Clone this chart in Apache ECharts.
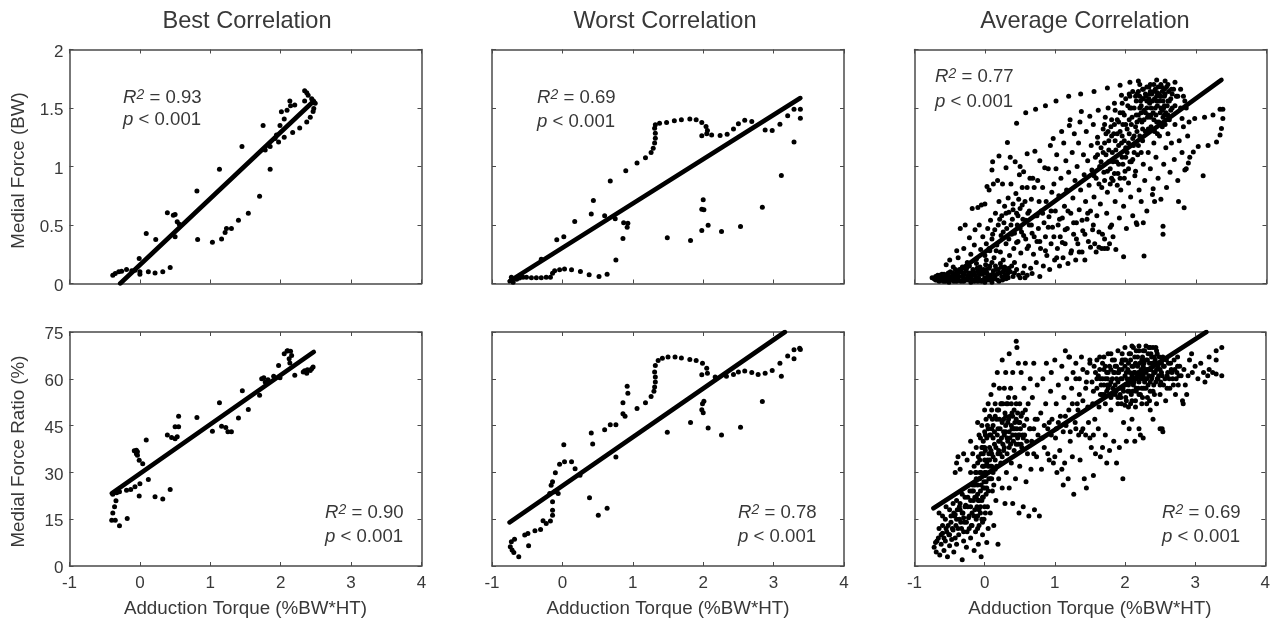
<!DOCTYPE html>
<html><head><meta charset="utf-8">
<script src="https://cdn.jsdelivr.net/npm/echarts@6/dist/echarts.min.js"></script>
<style>html,body{margin:0;padding:0;background:#fff}#c{width:1273px;height:623px}</style>
</head><body><div id="c"></div>
<script>
const titles = ['Best Correlation','Worst Correlation','Average Correlation'];
const xName = 'Adduction Torque (%BW*HT)';
const yNames = ['Medial Force (BW)','Medial Force Ratio (%)'];
const xTicks = [-1,0,1,2,3,4];
const forceTicks = [0,0.5,1,1.5,2];
const ratioTicks = [0,15,30,45,60,75];

const bestForce = [[-.385,.07],[-.35,.085],[-.30,.10],[-.26,.105],[-.19,.12],[-.115,.108],[-.07,.114],[0,.10],[0,.08],[-.01,.214],[.12,.10],[.215,.09],[.325,.10],[.43,.137],[.09,.427],[.225,.376],[.39,.604],[.50,.59],[.475,.584],[.53,.527],[.56,.507],[.50,.40],[.81,.79],[.82,.376],[1.03,.353],[1.16,.38],[1.21,.436],[1.23,.47],[1.30,.47],[1.40,.54],[1.54,.60],[1.70,.746],[1.13,.977],[1.45,1.17],[1.85,.977],[1.75,1.35],[1.78,1.14],[1.85,1.17],[1.92,1.24],[1.94,1.27],[1.97,1.21],[2.05,1.25],[2.17,1.29],[2.27,1.33],[2.37,1.38],[2.42,1.42],[2.46,1.47],[2.47,1.495],[2.49,1.54],[1.99,1.35],[2.05,1.405],[2.01,1.467],[2.09,1.48],[2.13,1.56],[2.14,1.52],[2.2,1.525],[2.34,1.56],[2.34,1.647],[2.37,1.63],[2.39,1.61],[2.44,1.58],[2.46,1.56]];
const bestForceLine = [[-.28,0],[2.47,1.56]];

const worstForce = [[-.725,.054],[-.725,.026],[-.70,.01],[-.65,.037],[-.61,.046],[-.56,.054],[-.51,.054],[-.44,.05],[-.37,.05],[-.30,.05],[-.23,.054],[-.17,.054],[-.14,.088],[-.11,.108],[-.04,.117],[.03,.123],[.13,.117],[.256,.103],[.38,.074],[.52,.06],[.635,.08],[.76,.20],[.86,.385],[.92,.48],[.93,.515],[.87,.52],[.75,.553],[.6,.578],[.41,.595],[.44,.71],[.175,.53],[.02,.40],[-.08,.373],[-.30,.208],[.68,.877],[.90,.963],[1.06,1.03],[1.18,1.074],[1.26,1.12],[1.29,1.157],[1.31,1.2],[1.32,1.242],[1.32,1.285],[1.31,1.327],[1.32,1.356],[1.38,1.37],[1.48,1.376],[1.59,1.39],[1.69,1.4],[1.81,1.405],[1.9,1.4],[1.98,1.376],[2.04,1.342],[2.06,1.307],[2.05,1.28],[1.98,1.262],[2.12,1.27],[2.24,1.265],[2.34,1.276],[2.43,1.32],[2.5,1.365],[2.59,1.396],[2.69,1.385],[2.88,1.313],[2.98,1.308],[3.09,1.362],[3.2,1.433],[3.29,1.49],[3.38,1.49],[3.38,1.413],[3.29,1.21],[3.11,.923],[2.84,.652],[2.53,.487],[2.26,.444],[2.07,.498],[1.98,.453],[2.01,.63],[1.98,.635],[2.0,.715],[1.82,.367],[1.49,.39]];
const worstForceLine = [[-.75,.02],[3.38,1.585]];

const avgForce = [
[.45,1.37],[.58,1.46],[.72,1.49],[.86,1.52],[1.01,1.56],[1.19,1.6],[1.36,1.62],[1.55,1.64],[1.74,1.67],[1.92,1.695],[2.06,1.72],[2.18,1.73],[2.44,1.74],[2.56,1.73],[2.7,1.72],
[2.8,1.41],[2.98,1.41],[3.12,1.42],[3.24,1.44],[3.34,1.49],[3.38,1.49],[3.38,1.41],[3.36,1.325],[3.34,1.27],[3.29,1.21],[3.17,1.18],[3.03,1.17],[2.96,1.125],[2.91,1.08],[2.89,1.03],[2.84,.97],[3.1,.92],[2.83,.647],[2.75,.70],[2.53,.49],[2.53,.42],[2.26,.236],[1.97,.228],[2.25,.52],[2.16,.505],[2.41,.70],[2.39,.81],
[-.75,.05],[-.72,.04],[-.7,.06],[-.68,.03],[-.66,.05],[-.64,.07],[-.62,.03],[-.6,.05],[-.58,.08],[-.56,.02],[-.55,.05],[-.53,.07],[-.5,.03],[-.49,.1],[-.47,.05],[-.45,.07],[-.44,.02],[-.42,.12],[-.4,.04],[-.39,.08],[-.37,.06],[-.35,.1],[-.34,.02],[-.32,.14],[-.3,.05],[-.29,.08],[-.27,.11],[-.25,.03],[-.24,.06],[-.22,.15],[-.2,.09],[-.19,.04],[-.17,.12],[-.15,.02],[-.14,.07],[-.12,.17],[-.1,.1],[-.09,.05],[-.07,.14],[-.05,.02],[-.04,.08],[-.02,.12],[0,.05],[.01,.16],[.03,.09],[.05,.03],[.06,.13],[.08,.07],[.1,.18],[.12,.11],[.13,.04],[.15,.15],[.17,.08],[.19,.12],[.2,.02],[.22,.17],[.24,.06],[.26,.1],[.28,.14],[.3,.04],[.32,.08],[.34,.13],[.4,.06],[.48,.07],[.57,.05],[.67,.085],[.78,.06],
[-.55,.16],[-.5,.2],[-.45,.14],[-.4,.28],[-.38,.22],[-.35,.47],[-.3,.3],[-.28,.5],[-.25,.18],[-.22,.39],[-.2,.25],[-.18,.64],[-.15,.33],[-.14,.46],[-.12,.21],[-.1,.65],[-.08,.5],[-.06,.29],[-.05,.67],[-.03,.4],[0,.24],[0,.68],[.02,.34],[.03,.83],[.04,.47],[.06,.8],[.07,.28],[.08,.54],[.1,.97],[.1,.38],[.11,1.04],[.12,.85],[.13,.22],[.14,.46],[.15,.6],[.17,.33],[.18,.88],[.19,.5],[.2,1.09],[.2,.7],[.22,.27],[.23,.41],[.24,.58],[.25,.85],[.26,.2],[.27,.52],[.28,.66],[.3,.99],[.3,.34],[.31,.47],[.32,1.205],[.33,.73],[.34,.61],[.35,.24],[.36,1.08],[.37,.85],[.38,.42],[.39,.55],[.4,.68],[.41,.3],[.42,.18],[.43,1.04],[.44,.77],[.45,.6],[.46,.5],[.47,.36],[.48,.72],[.49,.93],[.5,1.0],[.5,.64],[.51,.26],[.52,.44],[.53,.82],[.54,.55],[.55,.955],[.56,.15],[.57,.7],[.58,.38],[.6,1.11],[.6,.82],[.61,.6],[.62,.32],[.63,.5],[.64,.9],[.65,.13],[.66,.72],[.67,.43],[.68,.9],[.69,.25],[.7,.82],[.71,1.13],[.72,.58],[.73,.18],[.74,.36],[.75,.88],[.76,.47],[.77,.7],[.78,1.05],[.79,.3],[.8,.62],[.82,.82],[.83,.15],[.84,.52],[.85,.99],[.86,.4],[.87,.7],[.88,.24],[.9,.98],[.91,.57],[.92,.12],[.93,1.18],[.94,.34],[.95,.78],[.96,.48],[.97,1.24],[.98,.85],[.99,.2],[1,.62],[1.01,.98],[1.02,1.1],[1.03,.3],[1.04,.5],[1.05,.75],[1.06,.15],[1.07,.4],[1.08,.9],[1.09,1.3],[1.1,.56],[1.11,.22],[1.12,1.2],[1.13,.66],[1.14,.34],[1.15,1.05],[1.16,.8],[1.17,.47],[1.18,.17],[1.19,.95],[1.2,1.35],[1.21,1.4],[1.22,.6],[1.23,.28],[1.24,1.12],[1.25,.73],[1.26,.42],[1.27,1.28],[1.28,.88],[1.29,.2],[1.3,.52],[1.31,1.0],[1.32,.34],[1.33,1.2],[1.34,.63],[1.35,1.38],[1.36,.8],[1.37,1.47],[1.38,.27],[1.39,.45],[1.4,1.1],[1.41,.93],[1.42,.2],[1.43,.7],[1.44,1.3],[1.45,.55],[1.46,1.05],[1.47,.36],[1.48,.84],[1.49,1.43],[1.5,.62],
[1.51,1.18],[1.52,.97],[1.53,.46],[1.54,1.36],[1.55,.74],[1.56,.34],[1.57,1.08],[1.58,.9],[1.59,.58],[1.6,1.25],[1.61,1.48],[1.62,.31],[1.63,1.0],[1.64,.68],[1.65,1.16],[1.66,.82],[1.67,.42],[1.68,1.32],[1.69,.95],[1.7,.3],[1.71,1.42],[1.72,1.1],[1.73,.6],[1.74,.78],[1.75,1.5],[1.76,1.22],[1.77,.34],[1.78,.98],[1.79,1.34],[1.8,.5],[1.81,1.12],[1.82,.88],[1.83,1.28],[1.84,1.54],[1.85,.7],[1.86,.29],[1.87,1.04],[1.88,1.4],[1.89,.94],[1.9,1.18],[1.91,.56],[1.92,1.3],[1.93,.8],[1.94,1.61],[1.95,1.08],[1.96,1.46],[1.97,.66],[1.98,1.22],[1.99,.96],[2,1.36],[2.01,.47],[2.02,1.12],[2.03,1.52],[2.04,.86],[2.05,1.28],[2.06,1.6],[2.07,.74],[2.08,1.04],[2.09,1.42],[2.1,.58],[2.11,1.18],[2.12,1.5],[2.13,.92],[2.14,1.34],[2.15,.52],[2.16,1.62],[2.17,1.1],[2.18,1.44],[2.19,.8],[2.2,1.26],[2.21,1.56],[2.22,.7],[2.23,1.38],[2.24,1.66],[2.25,1.02],[2.26,1.48],[2.27,.88],[2.28,1.3],[2.29,1.6],[2.3,.62],[2.31,1.42],[2.32,1.12],[2.33,1.68],[2.34,1.54],[2.35,.98],[2.36,1.34],[2.37,1.62],[2.38,.76],[2.39,1.46],[2.4,1.2],[2.41,1.58],[2.42,1.66],[2.43,1.08],[2.44,1.38],[2.45,1.52],[2.46,.9],[2.47,1.62],[2.48,1.26],[2.49,1.46],[2.5,.72],[2.51,1.68],[2.52,1.34],[2.53,1.56],[2.54,1.02],[2.55,1.44],[2.56,1.62],[2.57,1.16],[2.58,.82],[2.59,1.52],[2.6,1.28],[2.61,1.64],[2.62,1.4],[2.63,.95],[2.64,1.58],[2.65,1.2],[2.66,1.5],[2.68,1.66],[2.69,1.06],[2.7,1.36],[2.72,1.6],[2.74,.88],[2.76,1.22],[2.78,1.5],[2.8,1.12],[2.82,1.34],[2.84,1.56],[2.86,.98],[2.88,1.26],[2.9,1.38],
[1.6,1.1],[1.7,1.2],[1.76,1.04],[1.8,.9],[1.84,1.36],[1.88,.84],[1.92,1.46],[1.96,1.02],[2,1.16],[2.04,.98],[2.08,1.5],[2.12,1.26],[2.16,1.38],[2.2,1.5],[2.24,1.22],[2.28,1.46],[2.32,1.32],[2.36,1.5],[2.4,1.4],[2.44,1.6],[2.48,1.56],[2.52,1.48],[2.56,1.36],[2.6,1.56],[2.05,1.4],[2.15,1.44],[2.25,1.58],[2.35,1.42],[2.45,1.28],[2.55,1.52],[1.75,1.3],[1.85,1.22],[1.95,1.26],[2.1,1.06],[2.3,1.56],[2.5,1.6],[2.42,1.5],[2.34,1.62],[2.22,1.46],[2.14,1.6],[2.06,1.5],[1.98,1.44],[1.9,1.38]];
const avgForceDense = [
[-.7,.03],[-.67,.07],[-.65,.02],[-.63,.04],[-.61,.08],[-.59,.02],[-.57,.06],[-.54,.04],[-.52,.09],[-.51,.01],[-.48,.03],[-.46,.09],[-.43,.05],[-.41,.08],[-.38,.03],[-.36,.12],[-.33,.06],[-.31,.09],[-.28,.03],[-.26,.13],[-.23,.09],[-.21,.05],[-.18,.07],[-.16,.1],[-.13,.04],[-.11,.13],[-.08,.08],[-.06,.11],[-.03,.03],[-.01,.09],[.02,.12],[.04,.06],[.07,.15],[.09,.04],[.11,.08],[.14,.06],[.16,.12],[.18,.03],[.21,.09],[.23,.14],[.25,.03],[.27,.12],[.29,.07],[.31,.11],[.33,.05],[.36,.1],[.38,.15],[.42,.09],[.45,.12],[.5,.05],[.54,.09],[.6,.07],[-.4,.02],[-.3,.02],[-.2,.01],[-.1,.02],[0,.01],[.1,.01],
[.02,.2],[.06,.3],[.11,.42],[.16,.28],[.21,.55],[.26,.44],[.3,.6],[.34,.38],[.37,.5],[.4,.63],[.42,.43],[.45,.35],[.47,.58],[.5,.47],[.53,.67],[.55,.41],[.58,.54],[.6,.3],[.63,.62],[.66,.5],[.7,.4],[.74,.58],[.78,.36],[.82,.6],[.86,.28],[.9,.48],[.94,.62],[.98,.4],[1.02,.22],[1.06,.55],[1.1,.35],[1.14,.46],[1.18,.62],[1.22,.26],[1.26,.52],[1.3,.38],[1.34,.27],[1.38,.54],[1.42,.42],[1.46,.6],[1.5,.31],[1.54,.5],[1.58,.27],[1.62,.44],[1.66,.3],[1.7,.38],[1.74,.3],[1.78,.48],[1.82,.4],
[1.55,.92],[1.6,1.2],[1.62,.85],[1.65,1.04],[1.68,1.12],[1.7,.88],[1.72,1.28],[1.74,.96],[1.76,1.14],[1.78,.85],[1.8,1.26],[1.82,1.04],[1.84,.94],[1.86,1.14],[1.88,1.28],[1.9,1.02],[1.92,.9],[1.94,1.2],[1.96,1.36],[1.98,.9],[2,1.08],[2.02,1.32],[2.04,1.2],[2.06,1.04],[2.08,1.36],[2.1,1.24],[2.12,1.12],[2.14,.96],[2.16,1.3],[2.18,1.18],[2.2,1.4],[2.22,1.12],[2.24,1.32],[1.7,1.36],[1.8,1.4],[1.85,1.48],[1.95,1.54],[2,1.58],[2.05,1.62],[2.1,1.64],[2.15,1.56],[2.18,1.64],[2.2,1.6],[2.22,1.52],[2.24,1.58],[2.26,1.4],[2.28,1.62],[2.3,1.5],[2.32,1.44],[2.33,1.58],[2.35,1.64],[2.36,1.44],[2.38,1.56],[2.4,1.64],[2.41,1.3],[2.43,1.44],[2.44,1.56],[2.46,1.68],[2.47,1.38],[2.49,1.6],[2.5,1.5],[2.52,1.64],[2.53,1.42],[2.54,1.5],[2.55,1.6],[2.57,1.46],[2.58,1.68],[2.6,1.44],[2.62,1.56],[2.64,1.48],[2.66,1.62],[2.7,1.52],[2.74,1.6],[2.78,1.66],[2.82,1.6],[2.86,1.5],[2.2,1.7],[2.3,1.68],[2.4,1.7],[2.5,1.7],[2.6,1.7],[2.25,1.66],[2.35,1.7],[2.45,1.63],[2.55,1.66],[2.65,1.66]];
const avgForceLine = [[-.5,.05],[3.36,1.74]];

const bestRatio = [[-.40,14.7],[-.385,17],[-.36,19],[-.34,20.9],[-.385,23],[-.33,23.5],[-.29,23.8],[-.35,14.7],[-.29,12.9],[-.18,15.2],[-.19,24.3],[-.13,24.5],[-.07,25.4],[0,26.4],[-.01,22.4],[.12,27.7],[.215,22.2],[.325,21.5],[.43,24.5],[-.08,36.9],[-.05,37.1],[-.035,36.6],[-.05,36],[-.035,35.5],[-.01,33.9],[.04,32.8],[.09,40.4],[.39,42],[.45,41.2],[.5,40.8],[.53,41.4],[.5,44.6],[.55,44.6],[.55,48],[.81,47.6],[1.03,43.2],[1.13,52.3],[1.16,44.8],[1.22,44.4],[1.25,43],[1.3,43],[1.4,47.4],[1.455,56.2],[1.54,50.2],[1.7,54.7],[1.73,60],[1.78,59],[1.82,59.7],[1.9,60.8],[1.99,60.3],[1.97,64.3],[2.13,65.1],[2.05,68],[2.09,68.9],[2.14,68.8],[2.155,67.5],[2.2,61.1],[2.32,62.2],[2.37,61.8],[2.42,62.7],[2.46,63.8],[2.38,62.9],[2.34,62.6],[1.76,60.3],[2.1,69],[2.12,66.4],[2.44,63.2]];
const bestRatioLine = [[-.4,23.3],[2.47,68.6]];

const worstRatio = [[-.74,6.2],[-.725,7.8],[-.715,5.1],[-.69,4.3],[-.62,3],[-.48,6.5],[-.68,8.6],[-.535,9.9],[-.49,10.4],[-.39,11.3],[-.31,11.7],[-.275,14.5],[-.23,13.6],[-.17,14.4],[-.14,16.3],[-.14,17.9],[-.14,20.6],[-.18,23.2],[-.11,23.8],[-.06,23.2],[-.16,25.9],[-.14,27],[-.1,29.9],[-.04,32.6],[.03,33.4],[.13,33.4],[.18,31.2],[.25,29.1],[.02,38.9],[.385,21.9],[.51,16.3],[.635,18.5],[.76,34.9],[.43,39.1],[.41,42.6],[.6,43.7],[.68,45.3],[.76,45.3],[.89,48],[.86,48.8],[.86,52.3],[.93,55.4],[.92,57.6],[1.06,50.5],[1.18,52.3],[1.26,54.3],[1.3,56],[1.31,57.4],[1.32,59],[1.32,60.6],[1.31,62.2],[1.32,64.3],[1.36,65.9],[1.42,66.6],[1.5,67],[1.6,67],[1.69,66.7],[1.81,66.2],[1.9,65.9],[1.99,65],[2.05,63.4],[2.06,61.8],[1.98,61.3],[2.17,60.6],[2.33,60.8],[2.43,61.4],[2.5,62.2],[2.59,62.5],[2.69,62],[2.78,61.4],[2.88,61.8],[2.98,62.7],[3.09,65],[3.11,60.8],[3.2,67.3],[3.29,66.4],[3.29,69.3],[3.37,69.8],[3.38,69.4],[2.84,52.7],[2.53,44.5],[2.26,42],[2.07,44.2],[1.82,46],[1.49,42.9],[2.01,52.8],[1.98,50.1],[2,49.1],[1.99,52]];
const worstRatioLine = [[-.75,14],[3.16,75]];

const avgRatio = [
[-.72,6],[-.7,7.5],[-.69,4.5],[-.66,9],[-.64,3.5],[-.62,7],[-.6,10.5],[-.58,5],[-.56,8],[-.55,12],[-.53,3],[-.51,10],[-.5,6.5],[-.48,14],[-.47,8.5],[-.45,11.5],[-.44,4.5],[-.43,16],[-.41,13],[-.4,7],[-.39,18],[-.37,10],[-.36,15],[-.35,20],[-.33,12],[-.32,2],[-.31,17],[-.3,8],[-.29,14],[-.28,22],[-.26,6],[-.25,11],[-.24,19],[-.23,15.5],[-.21,24],[-.2,9],[-.19,13],[-.18,17],[-.16,21],[-.15,5],[-.14,26],[-.13,11],[-.12,15],[-.11,19],[-.1,23],[-.09,7],[-.08,13],[-.07,28],[-.06,17],[-.05,3],[-.04,21],[-.03,10],[-.02,25],[-.01,15],[0,19],[0,30],
[-.65,17],[-.6,16],[-.55,19],[-.5,18],[-.45,20],[-.42,16.5],[-.4,21],[-.35,18],[-.32,23],[-.3,15.5],[-.27,19.5],[-.22,12],[-.18,24],[-.15,16],[-.12,28],[-.1,12],[-.08,18],[-.05,26],[-.03,14],[.02,23],[.03,7.5],[.05,12],[.08,17],[.13,13],[.19,7],
[-.35,31],[-.4,33],[-.42,30],[-.38,35],[-.3,36],[-.25,34],[-.2,30],[-.2,40],[-.17,36],[-.15,32],[-.12,38],[-.1,46],[-.1,33],[-.08,42],[-.07,30],[-.05,36],[-.04,45],[-.03,32],[-.02,40],[-.01,27],[0,34],[0,50],[0,43],[.01,37],[.02,30],[.02,47],[.03,25],[.03,41],[.04,34],[.05,52],[.05,44],[.06,28],[.07,38],[.07,48],[.08,32],[.09,55],[.09,42],[.1,36],[.1,50],[.11,24],[.12,45],[.12,30],[.13,58],[.14,39],[.15,52],[.15,34],[.16,21],[.17,47],[.18,42],[.18,62],[.19,36],[.2,28],[.2,50],[.21,57],[.22,44],[.23,33],[.24,52],[.25,66],[.25,25],[.26,39],[.27,47],[.28,57],[.29,20],[.3,62],[.3,43],[.31,30],[.32,36],[.33,52],[.34,47],[.35,68],[.35,25],[.36,41],[.37,57],[.38,33],[.39,49],[.4,62],[.4,20],[.41,44],[.42,37],[.43,54],[.44,28],[.45,72],[.45,47],[.46,70],[.47,41],[.48,65],[.49,17],[.5,52],[.5,32],[.51,44],[.52,62],[.53,38],[.54,49],[.55,19],[.56,57],[.57,42],[.58,65],[.59,27],[.6,47],[.61,36],[.62,52],[.63,16],[.64,44],[.65,60],[.66,31],[.67,40],[.68,54],[.7,65],[.71,18],[.72,47],[.74,35],[.75,58],[.76,42],[.78,16],[.8,49],[.81,31],[.83,60],[.85,38],[.87,52],[.88,65],[.9,44],[.92,34],[.94,56],[.95,62],[.96,47],[.98,33],[1,66],[1.01,41],[1.02,52],[1.03,30],[1.05,58],[1.07,37],[1.08,48],[1.1,64],[1.12,26],[1.13,54],[1.14,33],[1.16,45],[1.17,60],[1.19,28],[1.2,50],[1.21,67],[1.22,40],[1.24,57],[1.25,35],[1.26,62],[1.27,23],[1.29,46],[1.3,65],[1.32,52],[1.34,42],[1.35,60],[1.36,34],[1.38,67],[1.4,44],[1.42,28],[1.44,57],[1.45,25],[1.46,62],[1.48,46],[1.5,66],[1.52,38],[1.54,52],[1.55,29],[1.56,64],[1.58,36],[1.6,60],[1.62,44],[1.64,67],[1.65,35],[1.67,55],[1.68,38],[1.7,63],[1.72,42],[1.74,33],[1.75,60],[1.76,68],[1.78,37],[1.8,50],[1.82,66],[1.84,40],[1.86,55],[1.88,33],[1.9,62],[1.92,38],[1.94,54],[1.96,68],[1.97,28],[1.98,46],[2,64],[2.02,40],[2.04,56],[2.06,44],[2.08,52],[2.1,47],[2.12,70],[2.14,40],[2.16,56],[2.2,44],[2.22,42],[2.24,52],[2.26,41],[2.28,60],[2.32,54],[2.36,50],[2.4,47],[2.5,44],[2.53,44],[2.54,43],[2.83,52],
[1.6,57],[1.62,61],[1.64,63],[1.66,58],[1.68,65],[1.7,55],[1.72,60],[1.74,62],[1.76,57],[1.78,64],[1.8,59],[1.82,55],[1.84,62],[1.85,66],[1.86,58],[1.88,60],[1.9,54],[1.92,63],[1.94,57],[1.95,65],[1.96,60],[1.98,56],[2,61],[2.01,66],[2.02,53],[2.04,63],[2.05,58],[2.06,68],[2.08,60],[2.09,55],[2.1,64],[2.12,58],[2.13,62],[2.14,67],[2.15,53],[2.16,60],[2.18,64],[2.19,57],[2.2,69],[2.21,62],[2.22,55],[2.24,66],[2.25,60],[2.26,64],[2.27,57],[2.28,69],[2.3,62],[2.31,52],[2.32,66],[2.33,58],[2.34,70],[2.35,63],[2.36,56],[2.37,68],[2.38,60],[2.39,65],[2.4,70],[2.41,62],[2.42,55],[2.43,66],[2.44,59],[2.45,63],[2.46,68],[2.47,60],[2.48,65],[2.5,55],[2.52,62],[2.54,67],[2.55,58],[2.56,64],[2.58,53],[2.6,61],[2.62,65],[2.64,57],[2.66,63],[2.68,60],[2.7,66],[2.72,55],[2.74,62],[2.76,58],[2.78,64],[2.8,61],[2.82,53],[2.84,63],[2.86,58],[2.88,55],[2.9,61],[2.92,66],[2.96,62],[3,64],[3.04,60],[3.08,65],[3.12,62],[3.14,59],[3.18,61],[3.2,63],[3.25,62],[3.3,61.5],[3.38,61],[3.2,67],[3.3,66],[3.3,69],[3.38,70],[2.95,68],[2.75,67],
[1.7,67],[1.8,68],[1.9,69],[2,70],[2.1,70.5],[2.2,70.5],[2.3,70.5],[1.6,66],[1.5,65],[1.4,63],[1.3,60],[1.2,67],[1.15,69],[1.65,60],[1.75,58],[1.85,56],[1.95,52],[2.05,51],[2.15,51],[2.25,54],[2.35,53],[2.45,52],[1.55,56],[1.45,59],[1.35,55],[1.25,52],[1.15,48],[1.05,46],[.95,42],[.85,45],[.75,47],[.65,44],[.55,41],[.45,39],[.35,38],[.25,35],[.15,31],[.05,32],[.1,28],[.2,37],[.3,48],[.4,42],[.5,46],[.6,40],[.7,36],[.22,40],[.28,42],[.33,40],[.38,45],[.43,44],[.48,42],[.52,39],[.27,37],[.12,41],[.07,34],[.01,29],[-.03,38],[-.06,41],[-.09,35],[-.13,30]];
const avgRatioDense = [
[1.65,55],[1.68,60],[1.7,58],[1.72,64],[1.74,56],[1.76,62],[1.78,58],[1.8,63],[1.82,60],[1.83,57],[1.85,62],[1.87,56],[1.88,64],[1.9,59],[1.91,62],[1.93,55],[1.94,60],[1.96,63],[1.97,57],[1.99,66],[2,58],[2.01,54],[2.02,62],[2.03,60],[2.05,65],[2.06,56],[2.07,62],[2.08,66],[2.09,59],[2.1,61],[2.11,56],[2.12,64],[2.13,59],[2.14,62],[2.15,65],[2.16,57],[2.17,61],[2.18,67],[2.19,62],[2.2,59],[2.21,65],[2.22,60],[2.23,63],[2.24,57],[2.25,67],[2.26,61],[2.27,65],[2.28,59],[2.29,63],[2.3,66],[2.31,60],[2.32,63],[2.33,68],[2.34,61],[2.35,65],[2.36,59],[2.37,63],[2.38,67],[2.39,61],[2.4,64],[2.41,58],[2.42,67],[2.43,62],[2.44,65],[2.45,69],[2.46,60],[2.47,64],[2.48,61],[2.49,67],[2.5,63],[2.51,59],[2.52,65],[2.53,61],[2.55,64],[2.57,60],[2.59,66],[2.61,62],[2.63,60],[2.65,65],[2.67,62],[2.69,58],[2.71,63],[2.73,60],[2.75,64],[2.77,61],[1.8,54],[1.9,52],[2,51.5],[2.1,53],[2.2,55],[2.3,57],[2.4,56],[2.5,58],[2.6,57],[1.72,52],[1.86,64],[1.96,66],[2.08,68],[2.16,69],[2.26,69],[2.36,70],[2.44,70],
[-.2,21],[-.17,26],[-.14,22],[-.12,30],[-.1,26],[-.09,21],[-.07,34],[-.06,24],[-.05,30],[-.04,38],[-.03,22],[-.02,36],[-.01,32],[0,25],[0,38],[.01,42],[.02,27],[.03,33],[.04,45],[.05,24],[.06,36],[.07,42],[.08,28],[.09,37],[.1,32],[.1,44],[.11,47],[.12,35],[.13,26],[.14,43],[.15,48],[.16,38],[.17,32],[.18,50],[.19,44],[.2,40],[.21,47],[.22,36],[.23,52],[.24,41],[.25,46],[.26,52],[.27,43],[.28,38],[.29,49],[.3,45],[.31,52],[.32,41],[.33,46],[.34,54],[.35,43],[.36,48],[.37,39],[.38,52],[.39,44],[.4,48],[.41,40],[.42,50],[.43,46],[.44,42],[.45,52],[.46,44],[.47,49],[.48,39],[.49,46],[.5,42],[.52,48],[.54,42],[.56,45],[.58,50],
[-.68,8],[-.65,12],[-.62,10],[-.6,13],[-.58,9],[-.56,15],[-.54,11],[-.52,13],[-.5,10],[-.48,16],[-.46,12],[-.44,17],[-.42,9],[-.4,15],[-.38,12],[-.36,19],[-.34,14],[-.32,17],[-.3,11],[-.28,19],[-.26,14],[-.24,22],[-.22,16],[-.2,19],[-.18,13],[-.16,24],[-.14,18],[-.12,22],[-.1,16],[-.08,21],[-.06,19],[-.04,15],[-.02,22],[.01,17],[.04,19],
[.7,44],[.82,41],[.92,46],[1.02,44],[1.12,43],[1.22,43],[1.3,44],[1.38,43],[1.44,42],[1.5,41],[1.55,42],[.9,36],[1,35],[1.1,31],[1.33,50],[1.4,53],[1.47,51],[1.53,59],[1.58,62],[1.63,51],[1.57,47]];
const avgRatioLine = [[-.73,18.5],[3.16,75]];

const annotations = [
  ['0.93',123,98,120],['0.69',537,98,122],['0.77',935,77,102],
  ['0.90',325,513,537],['0.78',738,513,537],['0.69',1162,513,537]
];
const panelData = [bestForce,worstForce,avgForce.concat(avgForceDense),bestRatio,worstRatio,avgRatio.concat(avgRatioDense)];
const lineData = [bestForceLine,worstForceLine,avgForceLine,bestRatioLine,worstRatioLine,avgRatioLine];

const lefts = [69.5,492,914.5], tops = [49.5,332], W = 352, H = 234;
const TXT = '#383838', AX = '#4a4a4a', FONT = '"Liberation Sans",Arial,sans-serif';

const grid=[],xAxis=[],yAxis=[],series=[],title=[],graphic=[];
titles.forEach((t,i)=>title.push({text:t,left:[242,660,1080][i],top:4,textAlign:'center',
  textStyle:{fontFamily:FONT,fontSize:23.6,fontWeight:'normal',color:TXT}}));

const tickStyle = {show:true,inside:true,length:4,lineStyle:{color:AX,width:1}};
const lineStyleAx = {show:true,onZero:false,lineStyle:{color:AX,width:1.5}};
for (let r=0;r<2;r++) for (let c=0;c<3;c++){
  const g = grid.length, ticks = r?ratioTicks:forceTicks;
  grid.push({left:lefts[c],top:tops[r],width:W,height:H,show:false,containLabel:false});
  const xA = xAxis.length, yA = yAxis.length;
  const baseX = {type:'value',gridIndex:g,min:xTicks[0],max:xTicks[xTicks.length-1],interval:1,splitLine:{show:false},axisLine:lineStyleAx,axisTick:tickStyle};
  const baseY = {type:'value',gridIndex:g,min:ticks[0],max:ticks[ticks.length-1],interval:ticks[1]-ticks[0],splitLine:{show:false},axisLine:lineStyleAx,axisTick:tickStyle};
  xAxis.push(Object.assign({},baseX,{position:'bottom',
    axisLabel:{show:r===1,margin:9,fontFamily:FONT,fontSize:17,color:TXT},
    name:r===1?xName:'',nameLocation:'middle',nameGap:33,nameTextStyle:{fontFamily:FONT,fontSize:18.8,color:TXT}}));
  xAxis.push(Object.assign({},baseX,{position:'top',axisLabel:{show:false}}));
  yAxis.push(Object.assign({},baseY,{position:'left',
    axisLabel:{show:c===0,margin:6,fontFamily:FONT,fontSize:17,color:TXT,verticalAlign:'top',lineHeight:5},
    name:c===0?yNames[r]:'',nameLocation:'middle',nameGap:41,
    nameTextStyle:{fontFamily:FONT,fontSize:18.8,color:TXT,padding:r?[0,5,0,0]:[0,8,0,0]}}));
  yAxis.push(Object.assign({},baseY,{position:'right',axisLabel:{show:false}}));
  const idx = r*3+c;
  series.push({type:'scatter',xAxisIndex:xA,yAxisIndex:yA,data:panelData[idx],symbolSize:5,
    itemStyle:{color:'#000',opacity:1},silent:true,animation:false,large:false});
  series.push({type:'line',xAxisIndex:xA,yAxisIndex:yA,data:lineData[idx],showSymbol:false,symbol:'none',
    lineStyle:{color:'#000',width:4.6,cap:'round'},silent:true,animation:false,z:3});
  const a = annotations[idx];
  graphic.push({type:'text',x:a[1],y:a[2],style:{text:'{i|R}{s|2}{n| = '+a[0]+'}',verticalAlign:'middle',
    rich:{i:{fontStyle:'italic',fontFamily:FONT,fontSize:18.6,fill:TXT,color:TXT,lineHeight:20},
          s:{fontStyle:'italic',fontFamily:FONT,fontSize:14,fill:TXT,color:TXT,verticalAlign:'top',lineHeight:20},
          n:{fontFamily:FONT,fontSize:18.6,fill:TXT,color:TXT,lineHeight:20}}}});
  graphic.push({type:'text',x:a[1],y:a[3],style:{text:'{i|p}{n| < 0.001}',verticalAlign:'middle',
    rich:{i:{fontStyle:'italic',fontFamily:FONT,fontSize:18.6,fill:TXT,color:TXT},
          n:{fontFamily:FONT,fontSize:18.6,fill:TXT,color:TXT}}}});
}
const chart = echarts.init(document.getElementById('c'),null,{renderer:'canvas'});
chart.setOption({animation:false,backgroundColor:'#fff',title,grid,xAxis,yAxis,series,graphic});
</script></body></html>
